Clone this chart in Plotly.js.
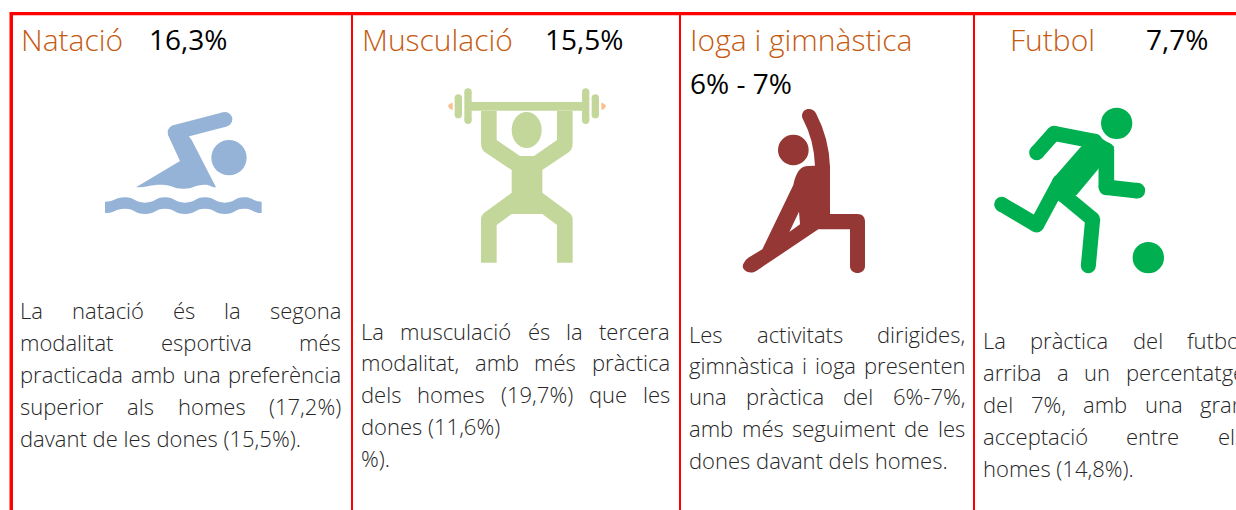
<!DOCTYPE html>
<html><head><meta charset="utf-8">
<script src="https://cdn.plot.ly/plotly-3.0.1.min.js"></script>
<style>html,body{margin:0;padding:0;background:#fff;overflow:hidden}#c{width:1236px;height:510px}</style>
</head><body><div id="c"></div>
<script>
const FONT = '"Open Sans"';
const titles = ['Natació','Musculació','Ioga i gimnàstica','Futbol'];
const titleX = [21,362,690,1010];
const shares = ['16,3%','15,5%','6% - 7%','7,7%'];
const shareX = [149,545,690,1146];
const shareY = [39,39,83,39];
const dividers = [352,680,974];
const colLeft = [20,361,689,983];
const colRight = [341,670,965,1245];
const col1 = ['La natació és la segona','modalitat esportiva més','practicada amb una preferència','superior als homes (17,2%)','davant de les dones (15,5%).'];
const col2 = ['La musculació és la tercera','modalitat, amb més pràctica','dels homes (19,7%) que les','dones (11,6%)','%).'];
const col3 = ['Les activitats dirigides,','gimnàstica i ioga presenten','una pràctica del 6%-7%,','amb més seguiment de les','dones davant dels homes.'];
const col4 = ['La pràctica del futbol','arriba a un percentatge','del 7%, amb una gran','acceptació entre els','homes (14,8%).'];
const colLineY = [[310,342,374,406,438],[331,362,394,426,458],[334,365,396,428,460],[340,372,404,436,468]];
const justifiedLines = [4,3,4,4];

const shapes = [], annotations = [];
const fill = (path,color)=>shapes.push({type:'path',path,fillcolor:color,line:{width:0},xref:'x',yref:'y',layer:'above'});
const circle = (cx,cy,rx,ry,color)=>shapes.push({type:'circle',x0:cx-rx,x1:cx+rx,y0:cy-ry,y1:cy+ry,fillcolor:color,line:{width:0},xref:'x',yref:'y'});
function icon(ox,oy,color){
  const X=x=>ox+x/3, Y=y=>oy+y/3;
  return {
    path:(d,c)=>fill(d.replace(/(-?[\d.]+)[ ,](-?[\d.]+)/g,(m,a,b)=>X(+a).toFixed(2)+','+Y(+b).toFixed(2)),c||color),
    disc:(x,y,rx,ry,c)=>circle(X(x),Y(y),rx/3,(ry||rx)/3,c||color),
    limb(pts,w){
      pts.forEach(p=>circle(X(p[0]),Y(p[1]),w/6,w/6,color));
      for(let i=0;i<pts.length-1;i++){
        const [a,b]=pts[i],[c,d]=pts[i+1],l=Math.hypot(c-a,d-b),nx=-(d-b)/l*w/2,ny=(c-a)/l*w/2;
        this.path(`M${a+nx},${b+ny} L${c+nx},${d+ny} L${c-nx},${d-ny} L${a-nx},${b-ny} Z`);
      }
    }
  };
}
const smooth=(pts)=>pts.slice(1).map((p,i)=>{const q=pts[i],m=(q[0]+p[0])/2;return `C${m},${q[1]} ${m},${p[1]} ${p[0]},${p[1]}`;}).join(' ');
const RED='#FF0000';
shapes.push({type:'rect',x0:10,x1:1240,y0:12,y1:15.3,fillcolor:RED,line:{width:0}});
shapes.push({type:'rect',x0:9.5,x1:13,y0:12,y1:512,fillcolor:RED,line:{width:0}});
dividers.forEach(x=>shapes.push({type:'rect',x0:x-1,x1:x+1,y0:13,y1:512,fillcolor:RED,line:{width:0}}));

const sw=icon(90,90,'#95B3D7');
sw.limb([[255,127],[405,88]],44);
sw.path('M234,135 L270,213 L138,292 '+smooth([[138,292],[215,284],[280,296],[345,284],[378,292]])+' L305,150 L275,110 Z');
sw.disc(417,203,53);
const waveTop=[[45,335],[105,322],[165,338],[225,322],[285,338],[345,322],[405,338],[462,322],[515,335]];
const waveBot=waveTop.map(p=>[p[0],p[1]+34]).reverse();
sw.path('M45,335 '+smooth(waveTop)+' L515,369 '+smooth(waveBot)+' Z');
const wl=icon(430,80,'#C4D79B');
wl.path('M153,93 L153,190 Q153,208 165,217 L245,270 L245,338 L165,397 Q153,405 153,420 L153,548 L200,548 L200,435 L245,402 L337,402 L381,435 L381,548 L428,548 L428,420 Q428,405 416,397 L337,338 L337,270 L416,217 Q428,208 428,190 L428,93 L381,93 L381,180 L312,228 L270,228 L200,180 L200,93 Z');
wl.path('M122,66 L460,66 L460,92 L122,92 Z');
wl.limb([[114,36],[114,121]],22);
wl.limb([[85,54],[85,104]],22);
wl.limb([[467,36],[467,121]],22);
wl.limb([[496,54],[496,104]],22);
wl.disc(290,150,45,54);
wl.path('M68,68 Q52,72 55,80 Q58,88 68,90 Z','#FAC090');
wl.path('M514,68 Q530,72 527,80 Q524,88 514,90 Z','#FAC090');
const yg=icon(730,100,'#953735');
yg.disc(190,150,46);
yg.path('M216,48 C216,22 250,20 259,42 Q297,115 300,200 L300,342 L382,342 C398,342 405,352 405,365 L405,498 C405,526 360,526 360,498 L360,388 L265,388 L80,512 C55,528 28,505 42,488 Q45,480 55,473 L97,448 L190,255 C198,215 212,198 235,198 L255,197 Q252,120 220,60 Q216,54 216,48 Z');
yg.path('M207,335 L178,396 L210,373 Z','#FFFFFF');
const fb=icon(985,100,'#00B050');
fb.disc(395,70,47);
fb.disc(490,473,47);
fb.path('M285,143 L330,102 L388,140 L340,207 L275,285 L222,300 L205,235 Z');
fb.limb([[155,158],[207,100],[330,124]],45);
fb.limb([[364,150],[364,262],[457,272]],47);
fb.limb([[50,313],[155,375],[225,245]],45);
fb.limb([[235,285],[323,358],[310,497]],45);

const ann=(t,x,y,size,color,weight)=>annotations.push({text:t,x,y,xref:'x',yref:'y',xanchor:'left',yanchor:'middle',showarrow:false,borderpad:0,borderwidth:0,align:'left',font:{family:FONT,size,color,weight:weight||300}});
titles.forEach((t,i)=>{ann(t,titleX[i],39,30,'#C55A11');ann(shares[i],shareX[i],shareY[i],28,'#000000',400);});
const BODY=22, ctx=document.createElement('canvas').getContext('2d');
ctx.font='300 '+BODY+'px '+FONT;
[col1,col2,col3,col4].forEach((lines,c)=>lines.forEach((line,i)=>{
  const words=line.split(' '), y=colLineY[c][i];
  if(i>=justifiedLines[c]||words.length<2){ann(line,colLeft[c],y,BODY,'#262626');return;}
  const total=words.reduce((s,w)=>s+ctx.measureText(w).width,0);
  const gap=(colRight[c]-colLeft[c]-total)/(words.length-1);
  let x=colLeft[c];
  words.forEach(w=>{ann(w,x,y,BODY,'#262626');x+=ctx.measureText(w).width+gap;});
}));

Plotly.newPlot('c',[],{
  width:1236,height:510,margin:{l:0,r:0,t:0,b:0},paper_bgcolor:'#fff',plot_bgcolor:'#fff',showlegend:false,
  xaxis:{range:[0,1236],visible:false,fixedrange:true},
  yaxis:{range:[510,0],visible:false,fixedrange:true},
  shapes,annotations
},{displayModeBar:false,staticPlot:true});
</script></body></html>
